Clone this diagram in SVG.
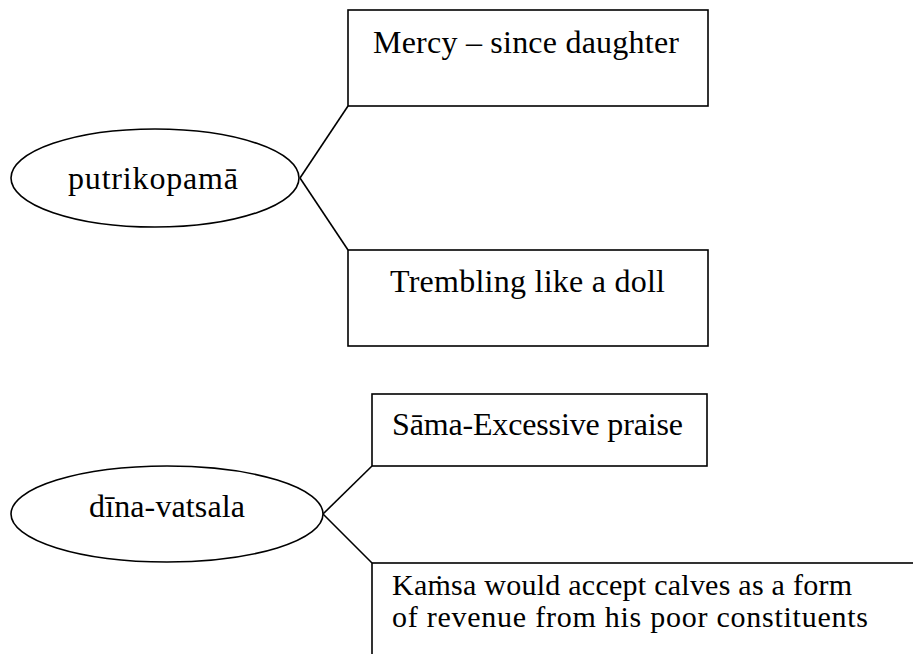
<svg xmlns="http://www.w3.org/2000/svg" width="913" height="654" viewBox="0 0 913 654">
<style>
.shape{fill:#fff;stroke:#000;stroke-width:1.6}
.conn line{stroke:#000;stroke-width:1.6}
text{font-family:"Liberation Serif","Times New Roman",serif;font-size:32px;fill:#000}
.c{text-anchor:middle}
.s{font-size:30px}
</style>
<rect width="913" height="654" fill="#fff"/>
<g id="connectors" class="conn">
<line x1="300" y1="178" x2="348" y2="106"/>
<line x1="300" y1="178" x2="348" y2="250"/>
<line x1="323" y1="514" x2="372" y2="466"/>
<line x1="323" y1="514" x2="372" y2="563"/>
</g>
<g id="putrikopama">
<ellipse class="shape" cx="155" cy="178" rx="144" ry="49"/>
<text class="c" x="153" y="189" textLength="170">putrikopamā</text>
</g>
<g id="mercy">
<rect class="shape" x="348" y="10" width="360" height="96"/>
<text class="c" x="526" y="53" textLength="306">Mercy – since daughter</text>
</g>
<g id="trembling">
<rect class="shape" x="348" y="250" width="360" height="96"/>
<text class="c" x="527.5" y="292" textLength="275">Trembling like a doll</text>
</g>
<g id="dina-vatsala">
<ellipse class="shape" cx="167" cy="514" rx="156" ry="48"/>
<text class="c" x="167" y="517" textLength="156">dīna-vatsala</text>
</g>
<g id="sama">
<rect class="shape" x="372" y="394" width="335" height="72"/>
<text class="c" x="537.5" y="435" textLength="291">Sāma-Excessive praise</text>
</g>
<g id="kamsa">
<rect class="shape" x="372" y="563" width="560" height="120"/>
<text class="s" x="392" y="595" textLength="460">Kaṁsa would accept calves as a form</text>
<text class="s" x="392" y="627" textLength="476">of revenue from his poor constituents</text>
</g>
</svg>
